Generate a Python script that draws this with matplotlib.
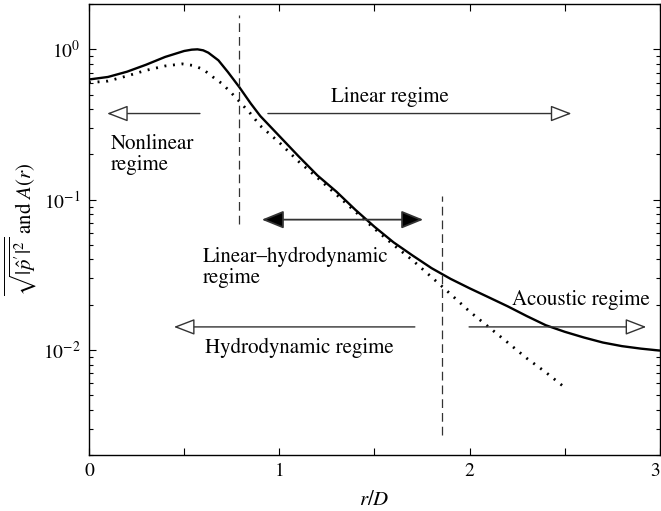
import matplotlib
matplotlib.use("Agg")
import matplotlib.pyplot as plt
from matplotlib.ticker import FixedLocator, LogLocator, NullFormatter, FixedFormatter

plt.rcParams['font.family'] = ['STIXGeneral', 'DejaVu Serif']
plt.rcParams['mathtext.fontset'] = 'stix'

# Solid curve: sqrt(|p'|^2)
r_solid = [0.0, 0.1, 0.2, 0.3, 0.4, 0.5, 0.54, 0.57, 0.6, 0.627, 0.68, 0.73, 0.79, 0.85, 0.9,
           1.0, 1.1, 1.2, 1.3, 1.4, 1.5, 1.6, 1.7, 1.8, 1.9, 2.0, 2.1, 2.2, 2.3, 2.4, 2.5,
           2.6, 2.7, 2.8, 2.9, 3.0]
p_solid = [0.63, 0.655, 0.71, 0.79, 0.89, 0.975, 0.995, 1.0, 0.985, 0.95, 0.845, 0.706, 0.56, 0.436, 0.36,
           0.265, 0.195, 0.145, 0.113, 0.0855, 0.066, 0.052, 0.0425, 0.035, 0.0297, 0.0257, 0.0224,
           0.0195, 0.0168, 0.0146, 0.0132, 0.0121, 0.0112, 0.0106, 0.0102, 0.0099]

# Dotted curve: A(r)
r_dot = [0.0, 0.1, 0.2, 0.3, 0.4, 0.49, 0.55, 0.6, 0.65, 0.7, 0.75, 0.79, 0.85, 0.9, 1.0, 1.1,
         1.2, 1.3, 1.4, 1.5, 1.6, 1.7, 1.8, 1.9, 2.0, 2.1, 2.2, 2.3, 2.4, 2.49]
a_dot = [0.60, 0.615, 0.665, 0.725, 0.775, 0.80, 0.78, 0.735, 0.656, 0.59, 0.51, 0.45, 0.372, 0.31,
         0.24, 0.18, 0.14, 0.108, 0.083, 0.064, 0.05, 0.0395, 0.0305, 0.0235, 0.018, 0.0142, 0.0112,
         0.0088, 0.0071, 0.00575]

# Regime boundaries (dashed)
vline_x = [0.79, 1.855]
vline_ylo = [0.069, 0.0027]
vline_yhi = [1.69, 0.106]

xticks = [0, 0.5, 1, 1.5, 2, 2.5, 3]
xticklabels = ['0', '', '1', '', '2', '', '3']

fig = plt.figure(figsize=(6.61, 5.11), dpi=100)
ax = fig.add_axes([0.1346, 0.1096, 0.8639, 0.8824])

ax.plot(r_solid, p_solid, color='black', lw=1.7, solid_capstyle='butt')
ax.plot(r_dot, a_dot, color='black', lw=2.0, linestyle=(0, (0.7, 2.4)))

for xv, lo, hi in zip(vline_x, vline_ylo, vline_yhi):
    ax.plot([xv, xv], [lo, hi], color='#333333', lw=0.9, linestyle=(0, (7, 4)))

ax.set_yscale('log')
ax.set_xlim(0, 3)
ax.set_ylim(0.002, 2)

ax.xaxis.set_major_locator(FixedLocator(xticks))
ax.xaxis.set_major_formatter(FixedFormatter(xticklabels))
ax.yaxis.set_major_locator(FixedLocator([1e-2, 1e-1, 1e0]))
ax.yaxis.set_major_formatter(FixedFormatter([r'$10^{-2}$', r'$10^{-1}$', r'$10^{0}$']))
ax.yaxis.set_minor_locator(LogLocator(base=10, subs=range(2, 10)))
ax.yaxis.set_minor_formatter(NullFormatter())

ax.tick_params(which='both', direction='in', top=True, right=True, labelsize=14, width=0.8)
ax.tick_params(which='major', length=5, pad=6)
ax.tick_params(which='minor', length=3)
for s in ax.spines.values():
    s.set_linewidth(1.0)

fig.canvas.draw()
last = ax.get_xticklabels()[-1]
last.set_horizontalalignment('right')

ax.set_xlabel(r'$r/D$', fontsize=15, labelpad=7)
ax.set_ylabel(r'$\overline{\sqrt{|\hat{p}^{\prime}|^2}}$ and $A(r)$', fontsize=15, labelpad=3)

acol = '#333333'
open_head = dict(arrowstyle='-|>,head_length=1.3,head_width=0.5', fc='white', ec=acol,
                 lw=1.0, shrinkA=0, shrinkB=0)
filled = dict(arrowstyle='<|-|>,head_length=1.35,head_width=0.55', fc='black', ec=acol,
              lw=1.3, shrinkA=0, shrinkB=0)

# Nonlinear (left)
ax.annotate('', xy=(0.095, 0.374), xytext=(0.583, 0.374), arrowprops=open_head)
# Linear (right)
ax.annotate('', xy=(2.535, 0.374), xytext=(0.94, 0.374), arrowprops=open_head)
# Linear-hydrodynamic (both)
ax.annotate('', xy=(1.756, 0.0736), xytext=(0.908, 0.0736), arrowprops=filled)
# Hydrodynamic (left)
ax.annotate('', xy=(0.446, 0.01423), xytext=(1.712, 0.01423), arrowprops=open_head)
# Acoustic (right)
ax.annotate('', xy=(2.928, 0.01423), xytext=(1.997, 0.01423), arrowprops=open_head)

fs = 15
ax.text(0.115, 0.2, 'Nonlinear\nregime', fontsize=fs, ha='left', va='center', linespacing=1.1)
ax.text(1.58, 0.48, 'Linear regime', fontsize=fs, ha='center', va='center')
ax.text(0.6, 0.0355, 'Linear\u2013hydrodynamic\nregime', fontsize=fs, ha='left', va='center', linespacing=1.1)
ax.text(0.61, 0.0103, 'Hydrodynamic regime', fontsize=fs, ha='left', va='center')
ax.text(2.222, 0.0216, 'Acoustic regime', fontsize=fs, ha='left', va='center')

fig.savefig('out.png', dpi=100)
